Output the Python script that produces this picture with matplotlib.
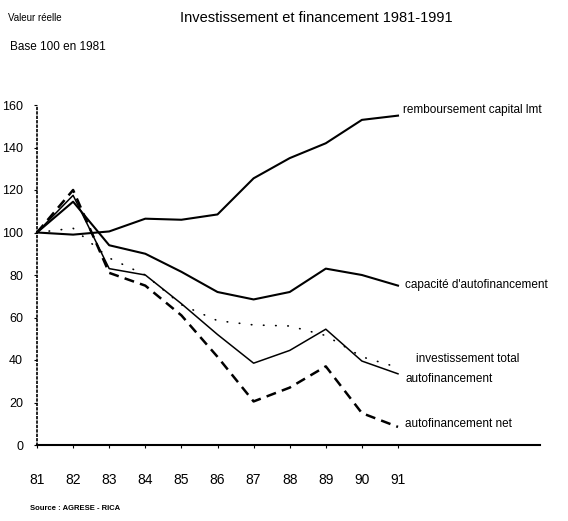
import numpy as np
import matplotlib
matplotlib.use('Agg')
import matplotlib.pyplot as plt

plt.rcParams['font.family'] = ['Liberation Sans', 'DejaVu Sans']

# valeurs (base 100 en 1981)
annees = [81, 82, 83, 84, 85, 86, 87, 88, 89, 90, 91]
remboursement = [100, 99, 100.5, 106.5, 106, 108.5, 125.5, 135, 142, 153, 155]
capacite = [100, 114.5, 94, 90, 81.5, 72, 68.5, 72, 83, 80, 75]
investissement = [100, 102, 88, 80, 66, 58.5, 56.5, 56, 51.5, 41.5, 36.5]
autofin = [100, 117.5, 83, 80, 66.5, 52, 38.5, 44.5, 54.5, 39.5, 33.5]
autofin_net = [100, 120, 81, 75, 61, 41.5, 20.5, 27, 37, 15, 8.5]
yticks = [0, 20, 40, 60, 80, 100, 120, 140, 160]

fig = plt.figure(figsize=(5.68, 5.21), dpi=100)
ax = fig.add_axes([37/568, 1-445/521, (540-37)/568, (445-105)/521])

ax.plot(annees, remboursement, color='black', lw=1.5, clip_on=False)
ax.plot(annees, capacite, color='black', lw=1.5, clip_on=False)
ax.plot(annees, investissement, color='black', lw=1.2, dashes=(0.3, 7),
        dash_capstyle='round', clip_on=False)
ax.plot(annees, autofin, color='black', lw=1.1, clip_on=False)
ax.plot(annees, autofin_net, color='black', lw=1.8, dashes=(4, 2.5), clip_on=False)

ax.set_xlim(81, 81 + (540-37)/36.1)
ax.set_ylim(0, 160)
ax.set_xticks(annees)
ax.set_xticklabels([str(a) for a in annees], fontsize=10)
ax.set_yticks(yticks)
ax.set_yticklabels([str(v) for v in yticks], fontsize=9)
ax.tick_params(axis='x', length=2, pad=18)
ax.tick_params(axis='y', length=2, pad=8)

for s in ['top', 'right']:
    ax.spines[s].set_visible(False)
ax.spines['left'].set_linestyle(':')
ax.spines['left'].set_linewidth(1.2)
ax.spines['bottom'].set_linewidth(1.5)

lab = dict(fontsize=8.5, va='center', ha='left')
ax.text(91.15, 157.5, 'remboursement capital lmt', **lab)
ax.text(91.2, 75.3, "capacité d'autofinancement", **lab)
ax.text(91.5, 40.5, 'investissement total', **lab)
ax.text(91.2, 31, 'autofinancement', **lab)
ax.text(91.2, 10, 'autofinancement net', **lab)

fig.text(8/568, 1-18/521, 'Valeur réelle', fontsize=7, va='center')
fig.text(10/568, 1-47/521, 'Base 100 en 1981', fontsize=8.5, va='center')
fig.text(316/568, 1-18/521, 'Investissement et financement 1981-1991',
         fontsize=10.5, ha='center', va='center')
fig.text(30/568, 1-508/521, 'Source : AGRESE - RICA', fontsize=5.5,
         fontweight='bold', va='center')

fig.savefig('out.png', dpi=100)
